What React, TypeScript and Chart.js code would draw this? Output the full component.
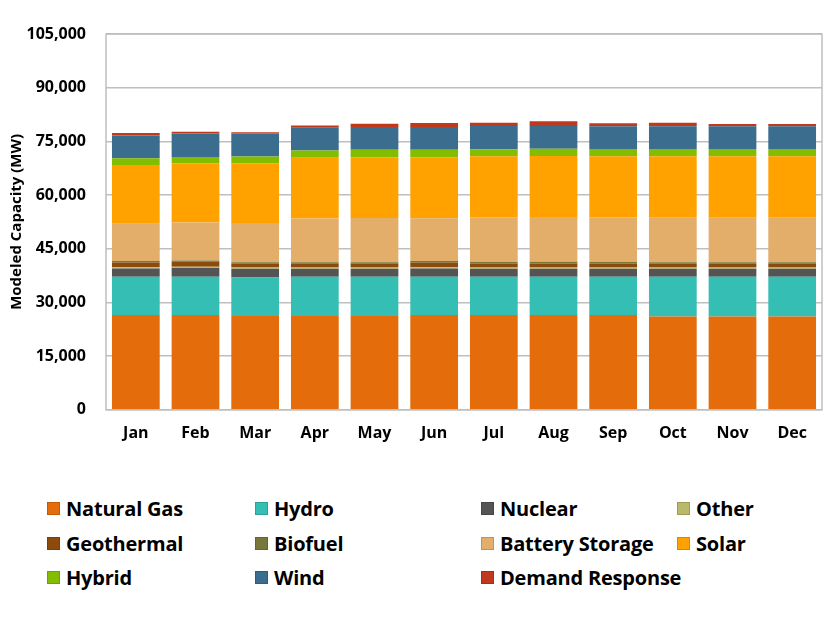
import React, { useEffect, useRef } from "react";
import { Chart, registerables } from "chart.js";

Chart.register(...registerables);

const months = ["Jan", "Feb", "Mar", "Apr", "May", "Jun", "Jul", "Aug", "Sep", "Oct", "Nov", "Dec"];

const naturalGas = [26500, 26500, 26200, 26200, 26200, 26500, 26500, 26500, 26500, 26100, 26100, 26100];
const hydro = [10650, 10700, 10760, 10950, 10950, 10700, 10650, 10650, 10650, 11050, 11050, 11050];
const nuclear = [2340, 2400, 2440, 2250, 2250, 2250, 2250, 2250, 2250, 2250, 2250, 2250];
const other = [350, 350, 350, 350, 350, 350, 350, 350, 350, 350, 350, 350];
const geothermal = [1330, 1450, 1050, 1050, 1050, 1300, 1100, 1150, 1100, 1050, 1050, 1050];
const biofuel = [400, 300, 450, 450, 450, 450, 450, 450, 450, 450, 450, 450];
const batteryStorage = [10400, 10600, 10950, 12180, 12370, 12000, 12500, 12500, 12500, 12430, 12430, 12430];
const solar = [16460, 16500, 16670, 16970, 16930, 17010, 17030, 17030, 17030, 17130, 17130, 17130];
const hybrid = [1880, 1850, 1880, 2030, 2080, 2080, 1970, 2070, 2050, 2070, 2070, 2070];
const wind = [6360, 6550, 6450, 6370, 6370, 6370, 6460, 6360, 6360, 6360, 6360, 6360];
const demandResponse = [650, 470, 370, 650, 930, 1100, 940, 1310, 850, 940, 640, 640];

const seriesNames = [
  "Natural Gas", "Hydro", "Nuclear", "Other", "Geothermal", "Biofuel",
  "Battery Storage", "Solar", "Hybrid", "Wind", "Demand Response",
];
const seriesValues = [
  naturalGas, hydro, nuclear, other, geothermal, biofuel,
  batteryStorage, solar, hybrid, wind, demandResponse,
];
const seriesColors = [
  "#E46C0A", "#35BEB3", "#545454", "#BBB86A", "#8C4A0B", "#77773A",
  "#E3AD6A", "#FFA200", "#84BD00", "#3A6D8E", "#C0391D",
];

const yTicks = { min: 0, max: 105000, step: 15000 };

// legend order as displayed (row-major, 4 columns)
const legendOrder = [
  "Natural Gas", "Hydro", "Nuclear", "Other",
  "Geothermal", "Biofuel", "Battery Storage", "Solar",
  "Hybrid", "Wind", "Demand Response",
];

const FONT = "'Open Sans', 'Noto Sans', sans-serif";

const borderPlugin = {
  id: "plotBorder",
  afterDatasetsDraw(chart: any) {
    const { ctx, chartArea } = chart;
    ctx.save();
    ctx.strokeStyle = "#BFBFBF";
    ctx.lineWidth = 1.5;
    ctx.strokeRect(chartArea.left, chartArea.top, chartArea.right - chartArea.left, chartArea.bottom - chartArea.top);
    ctx.restore();
  },
};

export default function App() {
  const canvasRef = useRef<HTMLCanvasElement | null>(null);

  useEffect(() => {
    document.body.style.margin = "0";
    const canvas = canvasRef.current;
    if (!canvas) return;
    const chart = new Chart(canvas, {
      type: "bar",
      data: {
        labels: months,
        datasets: seriesNames.map((name, i) => ({
          label: name,
          data: seriesValues[i],
          backgroundColor: seriesColors[i],
          borderWidth: 0,
          barPercentage: 1,
          categoryPercentage: 0.8,
        })),
      },
      options: {
        animation: false,
        responsive: false,
        maintainAspectRatio: false,
        layout: { padding: { top: 34, right: 4, bottom: 19, left: 0 } },
        plugins: {
          legend: { display: false },
          tooltip: { enabled: false },
        },
        scales: {
          x: {
            stacked: true,
            grid: { display: false, drawTicks: false },
            border: { display: false },
            ticks: {
              padding: 14,
              color: "#000",
              font: { family: FONT, size: 16, weight: "bold" },
            },
          },
          y: {
            stacked: true,
            min: yTicks.min,
            max: yTicks.max,
            afterFit: (scale: any) => {
              scale.width = 106;
            },
            grid: { color: "#BFBFBF", lineWidth: 1.5, drawTicks: false },
            border: { display: false },
            ticks: {
              stepSize: yTicks.step,
              padding: 20,
              color: "#000",
              font: { family: FONT, size: 16, weight: "bold" },
              callback: (v: any) => Number(v).toLocaleString("en-US"),
            },
            title: {
              display: true,
              text: "Modeled Capacity (MW)",
              color: "#000",
              padding: { top: 8, bottom: 0 },
              font: { family: FONT, size: 15, weight: "bold" },
            },
          },
        },
      },
      plugins: [borderPlugin],
    });
    return () => chart.destroy();
  }, []);

  const colLeft = [47, 255, 481, 677];
  const rowCenter = [508, 543, 577];

  return (
    <div style={{ position: "relative", width: 826, height: 620, background: "#fff", fontFamily: FONT }}>
      <canvas ref={canvasRef} width={826} height={476} style={{ position: "absolute", left: 0, top: 0, width: 826, height: 476 }} />
      {legendOrder.map((name, k) => {
        const idx = seriesNames.indexOf(name);
        const col = k % 4;
        const row = Math.floor(k / 4);
        return (
          <div
            key={name}
            style={{
              position: "absolute",
              left: colLeft[col],
              top: rowCenter[row] - 15,
              height: 30,
              display: "flex",
              alignItems: "center",
              whiteSpace: "nowrap",
            }}
          >
            <span
              style={{
                display: "inline-block",
                width: 13,
                height: 13,
                background: seriesColors[idx],
                boxShadow: "inset 0 0 0 1px rgba(0,0,0,0.15)",
                marginRight: 6,
              }}
            />
            <span style={{ fontSize: 20, fontWeight: 700, color: "#000", letterSpacing: -0.2 }}>{name}</span>
          </div>
        );
      })}
    </div>
  );
}
